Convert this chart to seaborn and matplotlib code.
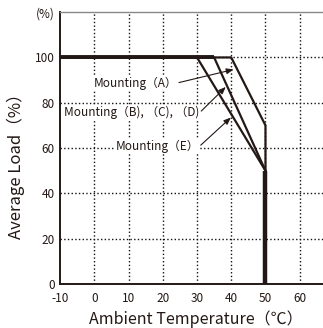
import matplotlib
matplotlib.use("Agg")
import matplotlib.pyplot as plt
import seaborn as sns
import pandas as pd

# Data
temp_A = [-10, 40, 50, 50]
load_A = [100, 100, 70, 0]
temp_BCD = [-10, 35, 50, 50]
load_BCD = [100, 100, 50, 0]
temp_E = [-10, 30, 50, 50]
load_E = [100, 100, 50, 0]

x_ticks = [-10, 0, 10, 20, 30, 40, 50, 60]
y_ticks = [0, 20, 40, 60, 80, 100, 120]
y_tick_labels = ["0", "20", "40", "60", "80", "100", "(%)"]

label_A = "Mounting（A）"
label_BCD = "Mounting（B), （C), （D)"
label_E = "Mounting（E）"

sns.set_theme(style="white")
plt.rcParams['font.family'] = ['Noto Sans CJK JP', 'DejaVu Sans']
plt.rcParams['axes.unicode_minus'] = False

ink = "#231815"

df = pd.concat([
    pd.DataFrame({"temp": temp_A, "load": load_A, "mount": "A"}),
    pd.DataFrame({"temp": temp_BCD, "load": load_BCD, "mount": "BCD"}),
    pd.DataFrame({"temp": temp_E, "load": load_E, "mount": "E"}),
], ignore_index=True)

fig = plt.figure(figsize=(3.23, 3.28), dpi=100)
ax = fig.add_axes([0.186, 0.134, 0.814, 0.829])

sns.lineplot(data=df, x="temp", y="load", units="mount", estimator=None, sort=False,
             color=ink, linewidth=1.6, ax=ax, legend=False, zorder=3)

# thicker shared segments (flat part and vertical cut-off), from the data
ax.plot(temp_BCD[:2], load_BCD[:2], color=ink, linewidth=2.8, solid_capstyle="butt", zorder=3)
ax.plot(temp_E[-2:], load_E[-2:], color=ink, linewidth=3.2, solid_capstyle="butt", zorder=3)

ax.set_xlim(-10, 66.8)
ax.set_ylim(0, 120)
ax.set_xticks(x_ticks)
ax.set_yticks(y_ticks)
ax.set_yticklabels(y_tick_labels)

# dotted grid at tick positions
for xv in x_ticks[1:]:
    ax.plot([xv, xv], [0, 120], color="#111111", linewidth=1.0, linestyle=":", zorder=2)
for yv in y_ticks[1:-1]:
    ax.plot([-10, 66.8], [yv, yv], color="#111111", linewidth=1.0, linestyle=":", zorder=2)
ax.set_xlim(-10, 66.8)
ax.set_ylim(0, 120)

ann_kw = dict(fontsize=8.5, color=ink, ha="left", va="center", zorder=4,
              bbox=dict(facecolor="white", edgecolor="none", pad=0.5))
arrow = dict(arrowstyle="-|>,head_length=0.5,head_width=0.2", color=ink, lw=0.8,
             shrinkA=1, shrinkB=0, relpos=(1.0, 0.5))
ax.annotate(label_A, xy=(40.7, 94.7), xytext=(-0.3, 88.7), arrowprops=arrow, **ann_kw)
ax.annotate(label_BCD, xy=(38.4, 87.0), xytext=(-8.8, 75.6), arrowprops=arrow, **ann_kw)
ax.annotate(label_E, xy=(39.9, 73.5), xytext=(6.2, 60.6), arrowprops=arrow, **ann_kw)

ax.tick_params(axis="both", length=0, labelsize=8.5, colors=ink)
ax.tick_params(axis="x", pad=6)
ax.tick_params(axis="y", pad=4)
ax.set_xlabel("Ambient Temperature（℃）", fontsize=11.5, color=ink)
ax.set_ylabel("Average Load（%）", fontsize=12, color=ink)
ax.xaxis.set_label_coords(0.517, -0.098)
ax.yaxis.set_label_coords(-0.132, 0.447)

for s in ["left", "bottom"]:
    ax.spines[s].set_color(ink)
    ax.spines[s].set_linewidth(1.4)
ax.spines["top"].set_color("#888888")
ax.spines["top"].set_linewidth(1.0)
ax.spines["right"].set_visible(False)

fig.savefig("out.png", dpi=100)
